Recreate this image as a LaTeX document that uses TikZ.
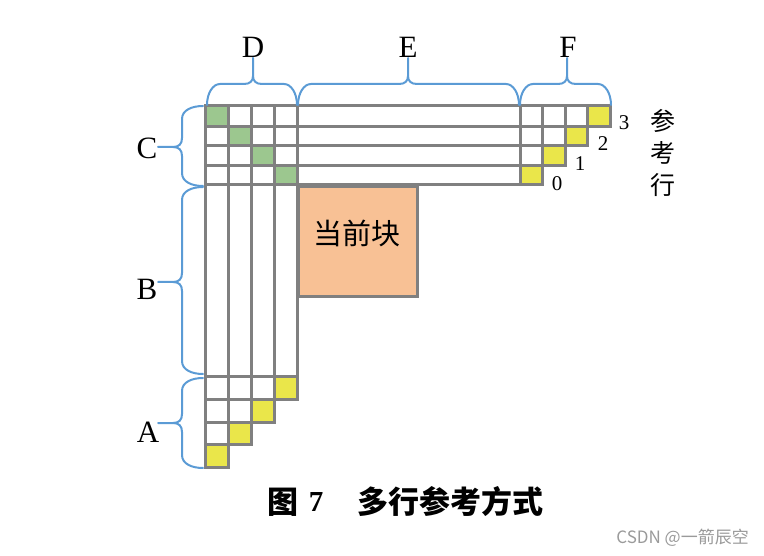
\documentclass[tikz,border=0pt]{standalone}
\usepackage{fontspec}
\setmainfont{Liberation Serif}
\newfontfamily\cjk{Noto Sans CJK SC}
\definecolor{gridgray}{HTML}{808080}
\definecolor{braceblue}{HTML}{5B9BD5}
\definecolor{cellgreen}{HTML}{9CC78F}
\definecolor{cellyellow}{HTML}{EAE64A}
\definecolor{blockorange}{HTML}{F8C195}
\definecolor{wmgray}{HTML}{9A9A9A}
\newcommand{\myhbrace}[3]{% x1, x2, xm ; ends at y=105, flat at y=84, tip top at 57
  \draw[bracestyle] (#1,105) .. controls (#1,93) and ({#1+6},84) .. ({#1+13},84)
    -- ({#3-9},84) .. controls ({#3-3},84) and (#3,81) .. (#3,76) -- (#3,58);
  \draw[bracestyle] (#3,76) .. controls (#3,81) and ({#3+3},84) .. ({#3+9},84)
    -- ({#2-13},84) .. controls ({#2-6},84) and (#2,93) .. (#2,105);
}
\newcommand{\myvbrace}[3]{% y1, y2, ym ; ends at x=203, bar at x=182, tip at 156
  \draw[bracestyle] (203,#1) .. controls (192,#1) and (182,{#1+4}) .. (182,{#1+13})
    -- (182,{#3-9}) .. controls (182,{#3-3}) and (179,#3) .. (173,#3) -- (158,#3);
  \draw[bracestyle] (173,#3) .. controls (179,#3) and (182,{#3+3}) .. (182,{#3+9})
    -- (182,{#2-13}) .. controls (182,{#2-4}) and (192,#2) .. (203,#2);
}
\tikzset{
  gridline/.style={draw=gridgray, line width=3pt, line cap=rect},
  bracestyle/.style={draw=braceblue, line width=2pt, line cap=round},
  biglabel/.style={font=\fontsize{31}{31}\selectfont, inner sep=0pt},
  numlabel/.style={font=\fontsize{21}{21}\selectfont, inner sep=0pt},
  cjklabel/.style={font=\cjk\fontsize{25}{25}\selectfont, inner sep=0pt},
  capcjk/.style={font=\cjk\bfseries\fontsize{31}{31}\selectfont, inner sep=0pt},
}
\begin{document}
\begin{tikzpicture}[x=1pt,y=-1pt]
\useasboundingbox (0,0) rectangle (764,556);
% colored cells
\fill[cellgreen] (205,106) rectangle (228,126.5);
\fill[cellgreen] (228,126.5) rectangle (251,146);
\fill[cellgreen] (251,146) rectangle (274,165.5);
\fill[cellgreen] (274,165.5) rectangle (297,185);
\fill[cellyellow] (520,165.5) rectangle (542.5,185);
\fill[cellyellow] (542.5,146) rectangle (565,165.5);
\fill[cellyellow] (565,126.5) rectangle (587.5,146);
\fill[cellyellow] (587.5,106) rectangle (610,126.5);
\fill[cellyellow] (274,377) rectangle (297,399.5);
\fill[cellyellow] (251,399.5) rectangle (274,422);
\fill[cellyellow] (228,422) rectangle (251,444.5);
\fill[cellyellow] (205,444.5) rectangle (228,467);
% current block
\node[draw=gridgray, line width=3pt, fill=blockorange, minimum width=119pt, minimum height=110pt, inner sep=0pt, anchor=north west] (blk) at (297,185) {};
\node[font=\cjk\fontsize{29}{29}\selectfont, inner sep=0pt] (blktext) at (357,233) {当前块};
% horizontal lines top
\draw[gridline] (205,106) -- (610,106);
\draw[gridline] (205,126.5) -- (610,126.5);
\draw[gridline] (205,146) -- (587.5,146);
\draw[gridline] (205,165.5) -- (565,165.5);
\draw[gridline] (205,185) -- (542.5,185);
% vertical lines top right
\draw[gridline] (520,106) -- (520,185);
\draw[gridline] (542.5,106) -- (542.5,185);
\draw[gridline] (565,106) -- (565,165.5);
\draw[gridline] (587.5,106) -- (587.5,146);
\draw[gridline] (610,106) -- (610,126.5);
% vertical lines left
\draw[gridline] (205,106) -- (205,467);
\draw[gridline] (228,106) -- (228,467);
\draw[gridline] (251,106) -- (251,444.5);
\draw[gridline] (274,106) -- (274,422);
\draw[gridline] (297,106) -- (297,399.5);
% horizontal lines bottom
\draw[gridline] (205,377) -- (297,377);
\draw[gridline] (205,399.5) -- (297,399.5);
\draw[gridline] (205,422) -- (274,422);
\draw[gridline] (205,444.5) -- (251,444.5);
\draw[gridline] (205,467) -- (228,467);
% braces
\myhbrace{207}{297}{253}
\myhbrace{298}{519}{408}
\myhbrace{520}{611}{567}
\myvbrace{106}{186}{147}
\myvbrace{187}{374}{282}
\myvbrace{378}{468}{423}
% brace labels
\node[biglabel] (lD) at (253,47) {D};
\node[biglabel] (lE) at (408,47) {E};
\node[biglabel] (lF) at (568,47) {F};
\node[biglabel] (lC) at (147,148) {C};
\node[biglabel] (lB) at (147,289) {B};
\node[biglabel] (lA) at (148,432) {A};
% reference row numbers
\node[numlabel] (n3) at (624,123) {3};
\node[numlabel] (n2) at (603,144) {2};
\node[numlabel] (n1) at (580,164) {1};
\node[numlabel] (n0) at (557,184) {0};
\node[cjklabel] (r1) at (663,121) {参};
\node[cjklabel] (r2) at (663,153) {考};
\node[cjklabel] (r3) at (663,185) {行};
% caption
\node[capcjk] (cap1) at (283,502) {图};
\node[font=\bfseries\fontsize{29}{29}\selectfont, inner sep=0pt] (cap2) at (316,502) {7};
\node[capcjk, anchor=west] (cap3) at (357,502) {多行参考方式};
% watermark
\node[font=\cjk\fontsize{17}{17}\selectfont, text=wmgray, inner sep=0pt, anchor=east] (wm) at (749,538) {CSDN @一箭辰空};
\end{tikzpicture}
\end{document}
